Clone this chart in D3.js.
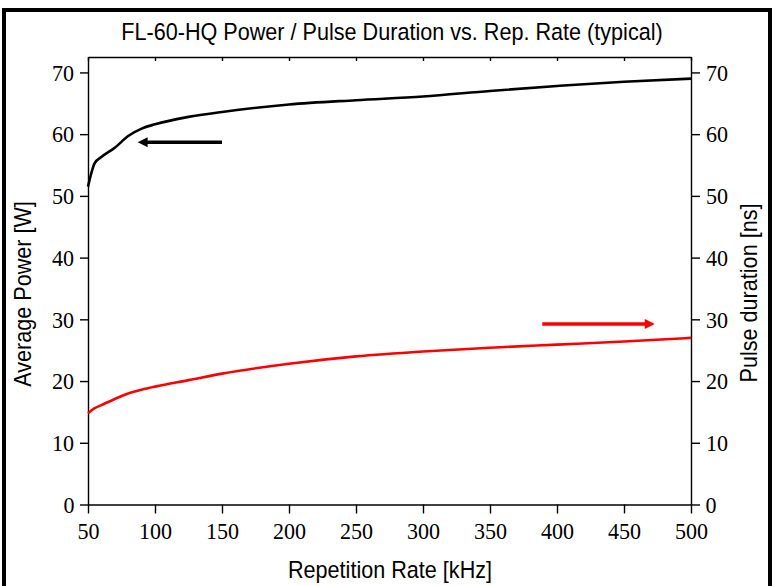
<!DOCTYPE html>
<html lang="en">
<head>
    <meta charset="UTF-8">
    <script src="https://cdn.jsdelivr.net/npm/d3@7"></script>
    <title>FL-60-HQ</title>
    <style>
        body { margin: 0; background: white; }
        .tick text {
            font-family: 'Liberation Serif', 'Times New Roman', serif; font-size: 24px; fill: black;
            transform-box: fill-box; transform-origin: center; transform: scaleX(0.92);
        }
        .lbl { font-family: 'Liberation Sans', Arial, sans-serif; font-size: 23.5px; fill: black; }
    </style>
</head>
<body>
<div id="chart"></div>
<script>
    // data
    const repRate = [50, 55, 60, 70, 80, 90, 100, 125, 150, 200, 250, 300, 350, 400, 450, 500];
    const avgPower = [51.5, 55.3, 56.3, 57.8, 59.7, 60.9, 61.6, 62.8, 63.6, 64.8, 65.5, 66.1, 67.0, 67.8, 68.5, 69.0];
    const pulseDur = [14.8, 15.6, 16.1, 17.1, 18.0, 18.6, 19.1, 20.15, 21.2, 22.8, 24.0, 24.8, 25.4, 25.9, 26.4, 27.0];
    const xTicks = [50, 100, 150, 200, 250, 300, 350, 400, 450, 500];
    const yTicks = [0, 10, 20, 30, 40, 50, 60, 70];

    const width = 775, height = 586;
    const margin = { left: 88, right: 84, top: 57, bottom: 81.5 };

    const svg = d3.select("#chart").append("svg")
        .attr("width", width)
        .attr("height", height);

    // outer frame
    svg.append("rect")
        .attr("x", 4).attr("y", 10)
        .attr("width", 766).attr("height", 600)
        .attr("fill", "none").attr("stroke", "black").attr("stroke-width", 4);

    const x = d3.scaleLinear().domain([50, 500]).range([margin.left, width - margin.right]);
    const y = d3.scaleLinear().domain([0, 72.5]).range([height - margin.bottom, margin.top]);

    // axes
    svg.append("g")
        .attr("transform", `translate(0,${y(0)})`)
        .call(d3.axisBottom(x).tickValues(xTicks).tickSize(9).tickPadding(8).tickSizeOuter(0));
    svg.append("g")
        .attr("transform", `translate(0,${margin.top})`)
        .call(d3.axisBottom(x).tickValues(xTicks).tickSize(4).tickFormat("").tickSizeOuter(0));
    svg.append("g")
        .attr("transform", `translate(${margin.left},0)`)
        .call(d3.axisLeft(y).tickValues(yTicks).tickSize(8).tickPadding(5).tickSizeOuter(0));
    svg.append("g")
        .attr("transform", `translate(${width - margin.right},0)`)
        .call(d3.axisRight(y).tickValues(yTicks).tickSize(9).tickPadding(5).tickSizeOuter(0));

    svg.selectAll(".domain, .tick line").attr("stroke", "black").attr("stroke-width", 1.4);

    // curves
    const line = d3.line().curve(d3.curveMonotoneX);
    const drawCurve = (vals, color) => {
        svg.append("path")
            .attr("d", line(repRate.map((r, i) => [x(r), y(vals[i])])))
            .attr("fill", "none")
            .attr("stroke", color)
            .attr("stroke-width", 2.6);
    };
    drawCurve(avgPower, "black");
    drawCurve(pulseDur, "#ff0000");

    // arrows pointing to the axis each curve belongs to
    const defs = svg.append("defs");
    [["black", "headK"], ["#ff0000", "headR"]].forEach(([c, id]) => {
        defs.append("marker")
            .attr("id", id)
            .attr("viewBox", "0 0 10 10")
            .attr("refX", 2).attr("refY", 5)
            .attr("markerUnits", "userSpaceOnUse")
            .attr("markerWidth", 14).attr("markerHeight", 10)
            .attr("orient", "auto")
            .append("path")
            .attr("d", "M0,0L10,5L0,10Z")
            .attr("fill", c);
    });
    const arrow = (x0, x1, v, color, id) => {
        svg.append("line")
            .attr("x1", x(x0)).attr("x2", x(x1))
            .attr("y1", y(v)).attr("y2", y(v))
            .attr("stroke", color)
            .attr("stroke-width", 3.5)
            .attr("marker-end", `url(#${id})`);
    };
    arrow(150, 93, 58.7, "black", "headK");
    arrow(389, 467, 29.25, "#ff0000", "headR");

    // texts, slightly condensed like the original
    const label = (cx, cy, rot, txt) => svg.append("text").attr("class", "lbl")
        .attr("transform", `translate(${cx},${cy}) rotate(${rot}) scale(0.92,1)`)
        .attr("text-anchor", "middle")
        .text(txt);
    label(392, 40, 0, "FL-60-HQ Power / Pulse Duration vs. Rep. Rate (typical)");
    label(390, 578, 0, "Repetition Rate [kHz]");
    label(31, 294, -90, "Average Power [W]");
    label(757, 293, -90, "Pulse duration [ns]");
</script>
</body>
</html>
